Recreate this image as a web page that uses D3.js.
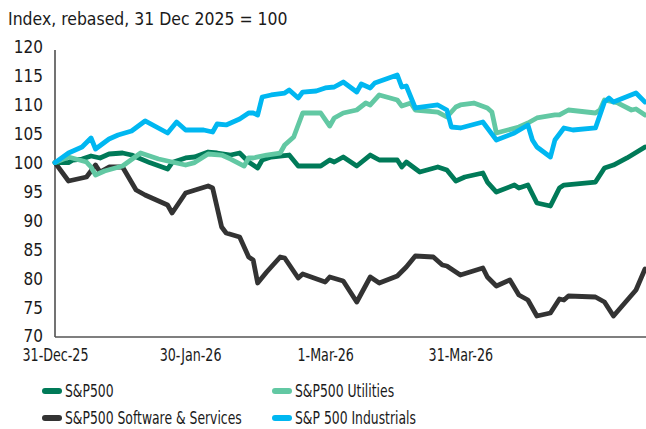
<!DOCTYPE html>
<html lang="en">
<head>
<meta charset="UTF-8">
<script src="https://d3js.org/d3.v7.min.js"></script>
<style>
  body { margin: 0; background: #fff; }
  text { font-family: "DejaVu Sans Condensed", "Roboto", sans-serif; fill: #1a1a1a; }
</style>
</head>
<body>
<svg id="vis" width="646" height="429"></svg>
<script>
// days since 31 Dec 2025, index value
var sp500 = [[0,100],[3,100],[4,100.45],[6,100.62],[8,101.14],[10,100.8],[12,101.49],[15,101.66],[17,101.31],
  [21,100],[25,98.89],[26,100],[29,100.8],[31,100.97],[34,101.83],[36,101.66],[39,101.31],[41,101.66],[43,100.1],
  [45,99.07],[46,100.45],[48,100.97],[52,101.31],[54,99.41],[59,99.41],[61,100.45],[62,100.1],[64,100.97],[67,99.41],
  [70,101.31],[72,100.45],[76,100.45],[77,99.24],[78,100.1],[81,98.37],[85,99.24],[87,98.72],[89,96.82],[91,97.51],
  [95,98.2],[96,96.64],[98,94.91],[102,96.12],[103,95.61],[105,96.12],[107,93.01],[110,92.49],[112,95.61],[113,96.12],
  [120,96.64],[122,99.07],[124,99.58],[127,100.8],[131,102.7]];

var utilities = [[0,100],[3,100.97],[7,100.1],[8,99.24],[9,97.85],[11,98.55],[15,99.41],[19,101.66],[23,100.62],
  [26,100.1],[29,99.58],[31,100],[34,101.49],[37,101.31],[39,100.62],[42,99.41],[43,100.8],[44,100.8],[47,101.31],
  [50,101.66],[51,103.04],[53,104.43],[55,108.58],[59,108.58],[61,106.33],[62,107.72],[64,108.58],[67,109.1],
  [69,110.31],[70,109.97],[72,111.7],[76,110.83],[77,109.79],[79,110.31],[80,109.1],[85,108.75],[87,107.89],
  [89,109.62],[90,109.97],[93,110.31],[96,109.45],[97,108.75],[98,105.12],[103,106.16],[105,106.85],[107,107.72],
  [111,108.24],[112,108.24],[114,109.1],[120,108.58],[121,109.1],[122,110.83],[125,110.31],[128,109.1],[129,109.27],
  [131,108.24]];

var software = [[0,100],[3,96.82],[7,97.51],[9,99.58],[10,98.37],[12,99.24],[15,99.24],[18,95.26],[20,94.39],
  [25,92.66],[26,91.28],[29,94.74],[34,95.95],[35,95.61],[37,88.86],[38,87.82],[41,87.13],[43,83.67],[44,83.15],
  [45,79.17],[47,81.07],[50,83.67],[51,83.49],[54,80.03],[55,80.73],[60,79.34],[61,80.21],[64,79.52],[67,75.88],
  [70,80.21],[72,79.17],[76,80.38],[78,81.94],[80,83.84],[84,83.67],[86,82.28],[87,82.11],[90,80.55],[95,81.76],
  [96,80.21],[98,78.65],[101,79.69],[103,77.09],[105,76.23],[107,73.46],[110,73.98],[112,76.4],[113,76.23],
  [114,76.92],[120,76.75],[122,75.88],[124,73.46],[129,77.96],[131,81.6]];

var industrials = [[0,100],[3,101.66],[6,102.7],[8,104.26],[9,102.35],[12,104.08],[14,104.78],[17,105.47],
  [20,107.2],[25,105.12],[27,107.02],[29,105.64],[32,105.64],[33,105.64],[35,105.29],[36,106.68],[38,106.51],
  [41,107.54],[43,108.58],[44,108.58],[45,108.24],[46,111.35],[48,111.7],[51,112.04],[52,112.56],[54,111.18],
  [55,112.21],[58,112.39],[60,112.91],[62,113.08],[64,113.94],[67,112.21],[68,113.6],[70,112.91],[71,113.77],
  [76,115.16],[77,113.08],[78,113.25],[80,109.45],[85,109.97],[87,109.1],[88,106.16],[90,105.99],[95,107.02],
  [96,106],[98,103.91],[102,105.12],[105,106.51],[106,103.91],[107,102.7],[110,100.97],[111,103.91],[113,105.99],
  [115,105.64],[120,105.99],[122,110.48],[123,111.18],[124,110.48],[129,112.04],[131,110.48]];

var seriesNames = ["S&P500", "S&P500 Utilities", "S&P500 Software & Services", "S&P 500 Industrials"];
var seriesData = [sp500, utilities, software, industrials];
var colors = ["#007a58", "#62c8a3", "#333333", "#00b7f1"];
var drawOrder = [2, 0, 1, 3];
var yTicks = [70, 75, 80, 85, 90, 95, 100, 105, 110, 115, 120];
var xTickDates = ["2025-12-31", "2026-01-30", "2026-03-01", "2026-03-31"];

var start = new Date(2025, 11, 31);
function toDate(d) { return d3.timeDay.offset(start, d); }

var svg = d3.select("#vis");

var x = d3.scaleTime().domain([start, toDate(131)]).range([55, 645]);
var y = d3.scaleLinear().domain([70, 120]).range([336, 47]);

svg.append("text").attr("transform", "translate(8,25) scale(0.97,1)").style("font-size", "18px")
  .text("Index, rebased, 31 Dec 2025 = 100");

// y axis
var yAxis = d3.axisLeft(y).tickValues(yTicks).tickSize(0).tickPadding(10);
var gy = svg.append("g").attr("transform", "translate(55,0)").call(yAxis);
gy.select(".domain").remove();
gy.selectAll("text").style("font-size", "17px").attr("dy", "0.35em").attr("x", -12);

// x axis
var parse = d3.timeParse("%Y-%m-%d");
var xAxis = d3.axisBottom(x).tickValues(xTickDates.map(parse)).tickSize(0).tickPadding(12)
  .tickFormat(d3.timeFormat("%-d-%b-%y"));
var gx = svg.append("g").attr("transform", "translate(0,337)").call(xAxis);
gx.select(".domain").remove();
gx.selectAll("text").style("font-size", "17px").attr("transform", "scale(0.83,1)");

svg.append("line").attr("x1", 55).attr("x2", 55).attr("y1", 50).attr("y2", 337)
  .attr("stroke", "#444").attr("stroke-width", 1.5);
svg.append("line").attr("x1", 55).attr("x2", 646).attr("y1", 337).attr("y2", 337)
  .attr("stroke", "#555").attr("stroke-width", 1.5);

var line = d3.line().x(function(d) { return x(toDate(d[0])); }).y(function(d) { return y(d[1]); });

drawOrder.forEach(function(i) {
  svg.append("path").datum(seriesData[i])
    .attr("fill", "none").attr("stroke", colors[i]).attr("stroke-width", 4.8)
    .attr("stroke-linejoin", "round").attr("stroke-linecap", "round")
    .attr("d", line);
});

// legend
var legPos = [[43, 391], [273, 391], [43, 418], [273, 418]];
seriesNames.forEach(function(name, i) {
  var g = svg.append("g").attr("transform", "translate(" + legPos[i][0] + "," + legPos[i][1] + ")");
  g.append("line").attr("x1", 2).attr("x2", 16).attr("y1", 0).attr("y2", 0)
    .attr("stroke", colors[i]).attr("stroke-width", 6).attr("stroke-linecap", "round");
  g.append("text").attr("transform", "translate(22,0) scale(0.81,1)")
    .attr("dy", "0.35em").style("font-size", "17px").text(name);
});
</script>
</body>
</html>
